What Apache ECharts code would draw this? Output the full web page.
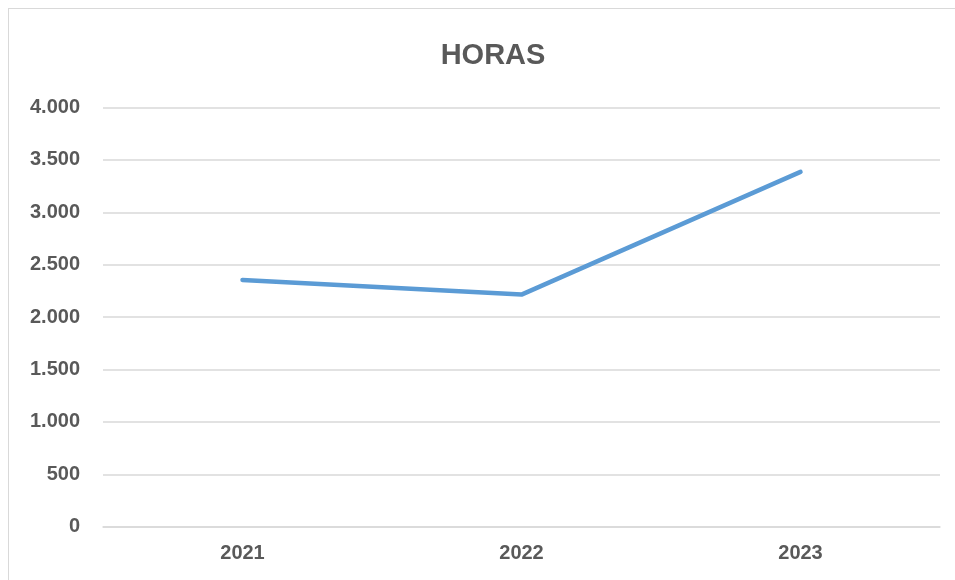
<!DOCTYPE html>
<html>
<head>
<meta charset="utf-8">
<script src="https://cdn.jsdelivr.net/npm/echarts@6/dist/echarts.min.js"></script>
<style>
html,body{margin:0;padding:0;background:#fff;}
#frame{position:absolute;left:8px;top:8px;width:960px;height:590px;border:1px solid #d9d9d9;box-sizing:border-box;}
#chart{position:absolute;left:0;top:0;width:955px;height:580px;}
</style>
</head>
<body>
<div id="frame"></div>
<div id="chart"></div>
<script>
const categories = ['2021', '2022', '2023'];
const horas = [2355, 2215, 3386];
const yTicks = [0, 500, 1000, 1500, 2000, 2500, 3000, 3500, 4000];

const chart = echarts.init(document.getElementById('chart'), null, {renderer: 'canvas'});
chart.setOption({
  backgroundColor: 'transparent',
  animation: false,
  title: {
    text: 'HORAS',
    left: 488,
    textAlign: 'center',
    top: 36,
    textStyle: {color: '#595959', fontSize: 29, fontWeight: 'bold', fontFamily: 'Liberation Sans, sans-serif'}
  },
  grid: {left: 103, right: 15, top: 107.5, bottom: 53.3, containLabel: false},
  xAxis: {
    type: 'category',
    data: categories,
    boundaryGap: true,
    axisLine: {show: true, lineStyle: {color: '#d9d9d9', width: 1.5}},
    axisTick: {show: false},
    axisLabel: {color: '#595959', fontSize: 20, fontWeight: 'bold', fontFamily: 'Liberation Sans, sans-serif', margin: 17}
  },
  yAxis: {
    type: 'value',
    min: yTicks[0],
    max: yTicks[yTicks.length - 1],
    interval: 500,
    axisLine: {show: false},
    axisTick: {show: false},
    splitLine: {lineStyle: {color: '#d9d9d9', width: 1.5}},
    axisLabel: {
      color: '#595959', fontSize: 20, fontWeight: 'bold', fontFamily: 'Liberation Sans, sans-serif', margin: 23,
      formatter: v => v === 0 ? '0' : v.toLocaleString('de-DE')
    }
  },
  series: [{
    name: 'HORAS',
    type: 'line',
    data: horas,
    symbol: 'none',
    lineStyle: {color: '#5B9BD5', width: 4.5, cap: 'round', join: 'round'}
  }]
});
</script>
</body>
</html>
